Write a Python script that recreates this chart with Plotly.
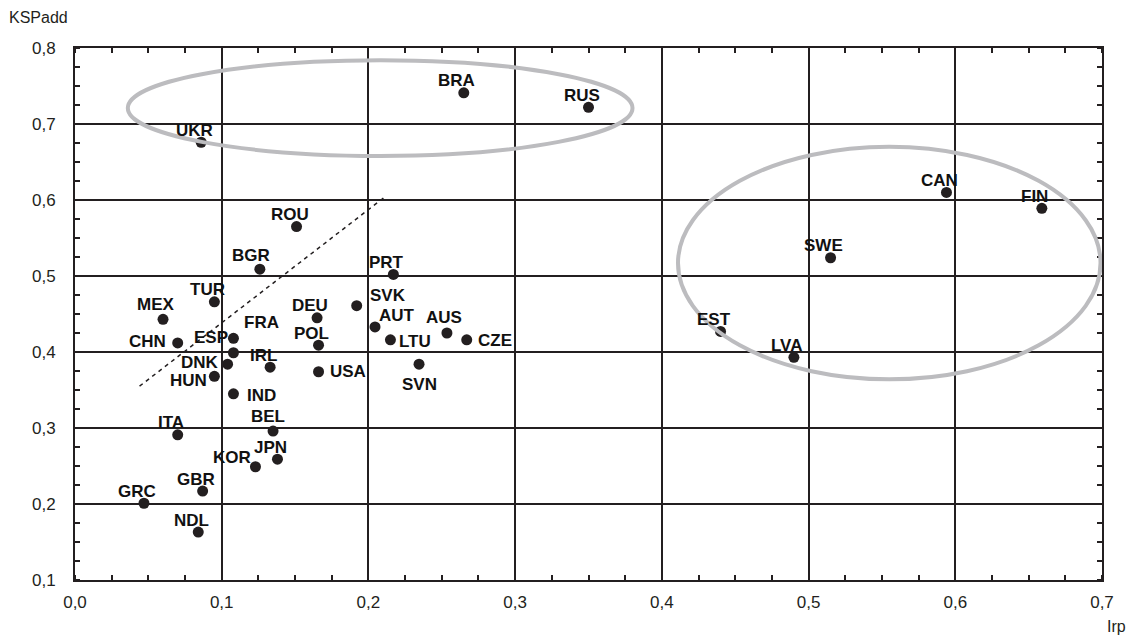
import plotly.graph_objects as go

countries = ["UKR", "BRA", "RUS", "ROU", "BGR", "PRT", "TUR", "MEX", "CHN", "ESP",
             "FRA", "DNK", "HUN", "IRL", "IND", "DEU", "POL", "SVK", "USA", "AUT",
             "LTU", "AUS", "CZE", "SVN", "BEL", "ITA", "JPN", "KOR", "GBR", "GRC",
             "NDL", "CAN", "FIN", "SWE", "EST", "LVA"]
irp = [0.086, 0.265, 0.350, 0.151, 0.126, 0.217, 0.095, 0.060, 0.070, 0.108,
       0.108, 0.104, 0.095, 0.133, 0.108, 0.165, 0.166, 0.192, 0.166, 0.2045,
       0.215, 0.2535, 0.267, 0.2345, 0.135, 0.070, 0.138, 0.123, 0.087, 0.047,
       0.084, 0.594, 0.659, 0.515, 0.440, 0.490]
kspadd = [0.676, 0.741, 0.722, 0.565, 0.509, 0.502, 0.466, 0.443, 0.412, 0.418,
          0.399, 0.384, 0.368, 0.380, 0.345, 0.445, 0.409, 0.461, 0.374, 0.433,
          0.416, 0.425, 0.416, 0.384, 0.296, 0.291, 0.259, 0.249, 0.217, 0.201,
          0.163, 0.610, 0.589, 0.524, 0.427, 0.393]

# dashed separator line (two endpoints)
sep_x = [0.044, 0.2105]
sep_y = [0.355, 0.603]

# group ellipses: (x0, x1, y0, y1)
ellipse_top = (0.036, 0.380, 0.658, 0.784)
ellipse_right = (0.411, 0.699, 0.364, 0.670)

x_ticks = [0.0, 0.1, 0.2, 0.3, 0.4, 0.5, 0.6, 0.7]
y_ticks = [0.1, 0.2, 0.3, 0.4, 0.5, 0.6, 0.7, 0.8]

# label offsets in screen px (dx right, dy down); default above-left
label_offsets = {
    "CHN": (-30, -1), "ESP": (-22, -1), "FRA": (28, -30), "DNK": (-28, -2),
    "HUN": (-26, 4), "IND": (28, 2), "USA": (29, 0), "SVK": (31, -10),
    "AUT": (22, -11), "AUS": (-3, -16), "LTU": (25, 2), "CZE": (28, 1),
    "SVN": (0, 20), "KOR": (-23, -9), "BEL": (-5, -15), "MEX": (-7, -15),
    "BGR": (-9, -14),
}
default_offset = (-7, -12)

fig = go.Figure()

fig.add_trace(go.Scatter(
    x=sep_x, y=sep_y, mode="lines",
    line=dict(color="#231f20", width=1.5, dash="4px,4px"),
    hoverinfo="skip", showlegend=False,
))

fig.add_trace(go.Scatter(
    x=irp, y=kspadd, mode="markers", text=countries,
    marker=dict(color="#231f20", size=11, line=dict(width=0)),
    showlegend=False,
))

# invisible trace to activate mirrored top/right axes for inside ticks
fig.add_trace(go.Scatter(x=[None], y=[None], xaxis="x2", yaxis="y2",
                         showlegend=False, hoverinfo="skip"))

for name, xv, yv in zip(countries, irp, kspadd):
    dx, dy = label_offsets.get(name, default_offset)
    fig.add_annotation(
        x=xv, y=yv, xref="x", yref="y", text="<b>%s</b>" % name,
        showarrow=False, xshift=dx, yshift=-dy,
        xanchor="center", yanchor="middle",
        font=dict(family="Liberation Sans, Arial", size=17, color="#111111"),
    )

for (x0, x1, y0, y1) in (ellipse_top, ellipse_right):
    fig.add_shape(type="circle", xref="x", yref="y", x0=x0, x1=x1, y0=y0, y1=y1,
                  line=dict(color="#bcbcbf", width=4), layer="above")

minor_ticks = dict(dtick=0.025, ticks="inside", ticklen=5, tickcolor="#231f20",
                   tickwidth=1.5, showgrid=False)

axis_common = dict(
    showline=True, linecolor="#231f20", linewidth=2, mirror=True,
    showgrid=True, gridcolor="#231f20", gridwidth=1.5,
    zeroline=False, ticks="", tickformat=".1f",
    tickfont=dict(family="Liberation Sans, Arial", size=17, color="#231f20"),
    minor=minor_ticks,
)

fig.update_layout(
    xaxis=dict(range=[0, 0.7], tickvals=x_ticks, ticklabelstandoff=6, **axis_common),
    yaxis=dict(range=[0.1, 0.8], tickvals=y_ticks, ticklabelstandoff=14, **axis_common),
    xaxis2=dict(range=[0, 0.7], overlaying="x", side="top", tickvals=x_ticks,
                showticklabels=False, showgrid=False, zeroline=False, showline=False,
                ticks="", minor=minor_ticks),
    yaxis2=dict(range=[0.1, 0.8], overlaying="y", side="right", tickvals=y_ticks,
                showticklabels=False, showgrid=False, zeroline=False, showline=False,
                ticks="", minor=minor_ticks),
)

fig.add_annotation(x=0, y=1, xref="paper", yref="paper", xshift=-68, yshift=31,
                   text="KSPadd", showarrow=False, xanchor="left", yanchor="middle",
                   font=dict(family="Liberation Sans, Arial", size=16, color="#231f20"))
fig.add_annotation(x=1, y=0, xref="paper", yref="paper", xshift=3, yshift=-46,
                   text="Irp", showarrow=False, xanchor="left", yanchor="middle",
                   font=dict(family="Liberation Sans, Arial", size=16, color="#231f20"))

fig.update_layout(
    width=1147, height=639,
    margin=dict(l=75, r=45, t=48, b=59),
    paper_bgcolor="white", plot_bgcolor="white",
    separators=", ",
    showlegend=False,
)

fig.write_html("out.html", config={"displayModeBar": False},
               post_script="document.body.style.margin='0';document.body.style.overflow='hidden';")
